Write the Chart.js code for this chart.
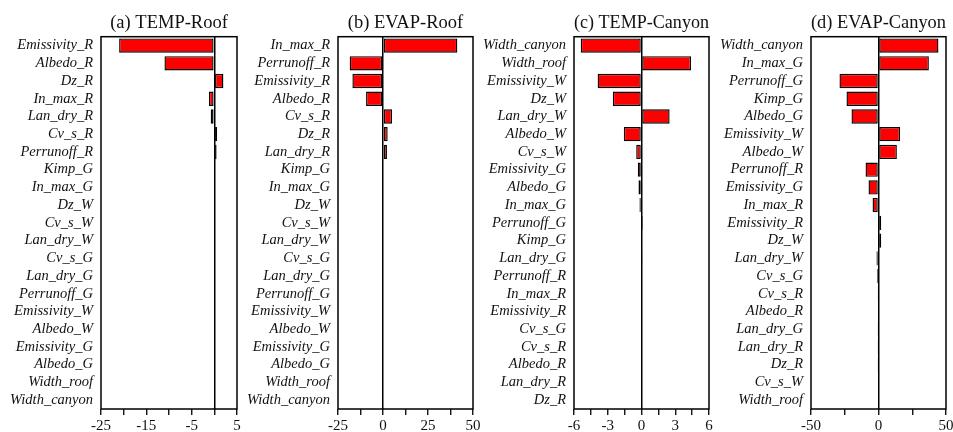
<!DOCTYPE html>
<html><head><meta charset="utf-8">
<script src="https://cdn.jsdelivr.net/npm/chart.js@4/dist/chart.umd.min.js"></script>
<style>
html,body{margin:0;padding:0;background:#fff;width:953px;height:432px;overflow:hidden;}
canvas{position:absolute;top:0;}
</style></head><body>
<canvas id="ca" width="244" height="432" style="left:0px"></canvas>
<canvas id="cb" width="237" height="432" style="left:244px"></canvas>
<canvas id="cc" width="235" height="432" style="left:481px"></canvas>
<canvas id="cd" width="237" height="432" style="left:716px"></canvas>
<script>
// ---- Data ----
const titleA = '(a) TEMP-Roof';
const labelsA = ['Emissivity_R','Albedo_R','Dz_R','In_max_R','Lan_dry_R','Cv_s_R','Perrunoff_R','Kimp_G','In_max_G','Dz_W','Cv_s_W','Lan_dry_W','Cv_s_G','Lan_dry_G','Perrunoff_G','Emissivity_W','Albedo_W','Emissivity_G','Albedo_G','Width_roof','Width_canyon'];
const valuesA = [-21, -11, 2, -1.2, -0.8, 0.6, 0.5, 0, 0, 0, 0, 0, 0, 0, 0, 0, 0, 0, 0, 0, 0];
const ticksA = [-25, -15, -5, 5];

const titleB = '(b) EVAP-Roof';
const labelsB = ['In_max_R','Perrunoff_R','Emissivity_R','Albedo_R','Cv_s_R','Dz_R','Lan_dry_R','Kimp_G','In_max_G','Dz_W','Cv_s_W','Lan_dry_W','Cv_s_G','Lan_dry_G','Perrunoff_G','Emissivity_W','Albedo_W','Emissivity_G','Albedo_G','Width_roof','Width_canyon'];
const valuesB = [41.3, -18.5, -17, -9.4, 5, 2.6, 2.2, 0, 0, 0, 0, 0, 0, 0, 0, 0, 0, 0, 0, 0, 0];
const ticksB = [-25, 0, 25, 50];

const titleC = '(c) TEMP-Canyon';
const labelsC = ['Width_canyon','Width_roof','Emissivity_W','Dz_W','Lan_dry_W','Albedo_W','Cv_s_W','Emissivity_G','Albedo_G','In_max_G','Perrunoff_G','Kimp_G','Lan_dry_G','Perrunoff_R','In_max_R','Emissivity_R','Cv_s_G','Cv_s_R','Albedo_R','Lan_dry_R','Dz_R'];
const valuesC = [-5.4, 4.4, -3.9, -2.55, 2.5, -1.57, -0.47, -0.33, -0.27, -0.18, 0.12, 0.06, 0.04, 0, 0, 0, 0, 0, 0, 0, 0];
const ticksC = [-6, -3, 0, 3, 6];

const titleD = '(d) EVAP-Canyon';
const labelsD = ['Width_canyon','In_max_G','Perrunoff_G','Kimp_G','Albedo_G','Emissivity_W','Albedo_W','Perrunoff_R','Emissivity_G','In_max_R','Emissivity_R','Dz_W','Lan_dry_W','Cv_s_G','Cv_s_R','Albedo_R','Lan_dry_G','Lan_dry_R','Dz_R','Cv_s_W','Width_roof'];
const valuesD = [44.4, 37.3, -28.9, -23.7, -20, 16, 13.6, -9.6, -7.4, -4.4, 2, 2, -1.5, -1.2, -0.4, 0.5, -0.3, -0.3, -0.2, 0, 0];
const ticksD = [-50, 0, 50];

// ---- Rendering ----
const SERIF = "'Liberation Serif', 'Times New Roman', serif";
const frame = {
  id: 'frame',
  afterDraw(chart) {
    const a = chart.chartArea, c = chart.ctx;
    c.save(); c.strokeStyle = '#000'; c.lineWidth = 1.5;
    c.strokeRect(a.left, a.top, a.right - a.left, a.bottom - a.top);
    c.restore();
  }
};

function make(id, title, labels, values, majors, step, yWidth, padRight) {
  const min = majors[0], max = majors[majors.length - 1];
  new Chart(document.getElementById(id), {
    type: 'bar',
    data: { labels: labels, datasets: [{
      data: values, backgroundColor: '#ff0000', borderColor: '#000000',
      borderWidth: 1.4, borderSkipped: false,
      barPercentage: 0.84, categoryPercentage: 0.96
    }]},
    options: {
      indexAxis: 'y', responsive: false, animation: false,
      layout: { padding: { left: 0, right: padRight, top: 0, bottom: 0 } },
      plugins: {
        legend: { display: false }, tooltip: { enabled: false },
        title: { display: true, text: title, fullSize: false, color: '#111',
          font: { family: SERIF, size: 18.5, weight: 'normal', lineHeight: 1.2 },
          padding: { top: 12.5, bottom: 2 } }
      },
      scales: {
        x: {
          type: 'linear', min: min, max: max,
          ticks: { stepSize: step, autoSkip: false, maxRotation: 0, padding: 2.5, color: '#111',
            font: { family: SERIF, size: 15, lineHeight: 1.2 },
            callback: (v) => majors.some(m => Math.abs(m - v) < 1e-6) ? String(v) : '' },
          grid: { display: true, drawOnChartArea: true, drawTicks: true, tickLength: 6,
            color: (ctx) => (ctx.tick && Math.abs(ctx.tick.value) < 1e-9) ? '#000' : 'rgba(0,0,0,0)',
            tickColor: '#000', lineWidth: 1.5, tickWidth: 1.3 },
          border: { display: false },
          afterFit: (s) => { s.paddingLeft = 0; s.paddingRight = 0; s.height = 23; }
        },
        y: {
          ticks: { autoSkip: false, padding: 8, color: '#111',
            font: { family: SERIF, size: 14.5, style: 'italic', lineHeight: 1.2 } },
          grid: { display: false, drawTicks: false },
          border: { display: false },
          afterFit: (s) => { s.width = yWidth; s.paddingTop = 0; s.paddingBottom = 0; }
        }
      }
    },
    plugins: [frame]
  });
}

make('ca', titleA, labelsA, valuesA, ticksA, 5, 101, 7);
make('cb', titleB, labelsB, valuesB, ticksB, 12.5, 94, 8);
make('cc', titleC, labelsC, valuesC, ticksC, 1.5, 93, 7);
make('cd', titleD, labelsD, valuesD, ticksD, 25, 95, 7);
</script>
</body></html>
